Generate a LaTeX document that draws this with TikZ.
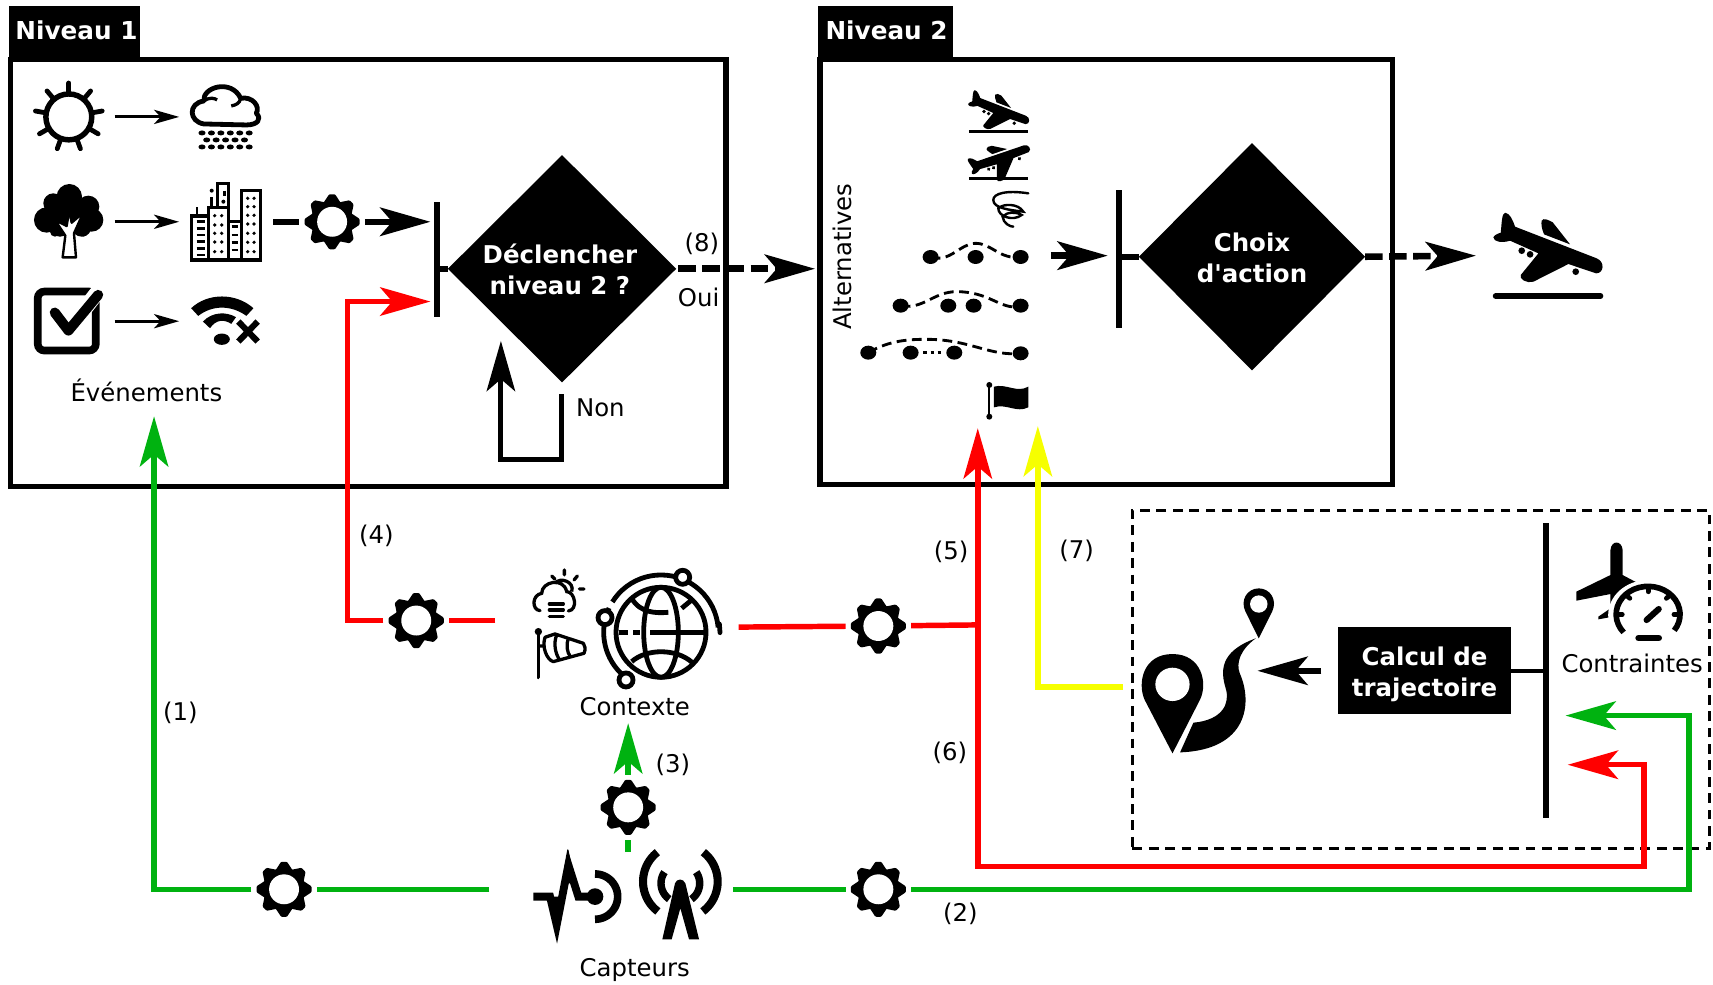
\documentclass[tikz,border=0pt]{standalone}
\usepackage{fontspec}
\setmainfont{DejaVu Sans}[Ligatures=TeXOff]
\usetikzlibrary{arrows.meta,shapes.geometric}
\definecolor{gr}{RGB}{0,178,16}
\definecolor{rd}{RGB}{255,0,0}
\definecolor{yl}{RGB}{246,255,0}
\newcommand{\arcp}[5]{plot[domain=#4:#5,samples=28,variable=\t] ({#1+#3*cos(\t)},{#2+#3*sin(\t)})}
\newcommand{\lowtext}[2]{\raisebox{0pt}[\dimexpr\height+#1\relax][\depth]{\begin{tabular}{@{}c@{}}#2\end{tabular}}}
\tikzset{
  every node/.style={font=\fontsize{11.15}{14}\selectfont,inner sep=0pt,outer sep=0pt},
  bigtip/.style={-{Stealth[length=23pt,width=13pt,inset=5.5pt]}},
  smalltip/.style={-{Stealth[length=11.5pt,width=6.5pt,inset=3pt]}},
  framebox/.style={draw=black,line width=2.5pt,rectangle},
  tabbox/.style={fill=black,text=white,font=\fontsize{11.3}{14}\selectfont\bfseries,rectangle},
  decision/.style={diamond,fill=black,text=white,aspect=1,align=center,font=\fontsize{11.2}{14}\selectfont\bfseries},
  barv/.style={fill=black,minimum width=2.6pt,rectangle},
  gearhit/.style={circle,minimum size=30pt},
  iconhit/.style={rectangle},
  link/.style={line width=2.5pt},
  thk/.style={line width=3pt},
  gearicon/.pic={
    \foreach \a in {0,45,...,315}{\filldraw[line width=1.6pt,line join=round,rotate=\a] (15,-7.5) -- (23.6,-1.8) -- (23.6,1.8) -- (15,7.5) -- cycle;}
    \fill (0,0) circle[radius=19.5];
    \fill[white] (0,0) circle[radius=13.7];
  },
  planeicon/.pic={
    \begin{scope}[scale=0.3051,shift={(-230,-170)}]
    \fill (92,128) .. controls (95,100) and (95,70) .. (105,68) .. controls (120,70) and (128,90) .. (135,110) -- (380,205) .. controls (405,215) and (402,250) .. (378,250) -- (295,222) -- (190,275) .. controls (170,282) and (145,265) .. (152,255) -- (205,190) -- (120,152) .. controls (95,160) and (70,155) .. (70,142) .. controls (72,135) and (85,130) .. (92,128) -- cycle;
    \fill (215,92) .. controls (220,82) and (235,90) .. (248,97) -- (300,163) -- (222,133) .. controls (216,120) and (212,100) .. (215,92) -- cycle;
    \fill (155,182) circle[radius=10] (180,193) circle[radius=10] (317,245) circle[radius=10];
    \end{scope}
  },
}
\begin{document}
\begin{tikzpicture}[x=0.5pt,y=-0.5pt]
\useasboundingbox (0,0) rectangle (1568,901.6);

% ---- frames and tabs
\node[framebox,minimum width=327.5pt,minimum height=195.5pt] (n1) at (337,250) {};
\node[framebox,minimum width=262pt,minimum height=194.5pt] (n2) at (1012.5,249) {};
\node[tabbox,minimum width=60pt,minimum height=25pt] (t1) at (68,30.5) {\hspace*{2pt}\raisebox{2.5pt}{Niveau 1}};
\node[tabbox,minimum width=61.5pt,minimum height=25pt] (t2) at (810.5,30.5) {\hspace*{1pt}\raisebox{2.5pt}{Niveau 2}};
\node[draw=black,line width=1.3pt,dash pattern=on 4.5pt off 3pt,rectangle,minimum width=264pt,minimum height=155pt] (dbox) at (1300.5,622) {};

% ---- decision nodes, bars, boxes
\node[decision,minimum width=104.5pt,minimum height=104pt] (d1) at (514.5,246) {\hspace*{-2pt}\lowtext{4pt}{Déclencher\\niveau 2 ?}};
\node[decision,minimum width=103.5pt,minimum height=104pt] (d2) at (1146,235) {\lowtext{4pt}{Choix\\d'action}};
\node[barv,minimum height=52.5pt] (b1) at (400,237.5) {};
\node[barv,minimum height=63pt] (b2) at (1024,237) {};
\node[barv,minimum height=135pt] (b3) at (1415,614) {};
\node[fill=black,text=white,rectangle,font=\fontsize{11.2}{14}\selectfont\bfseries,minimum width=79.5pt,minimum height=40pt] (calc) at (1304,614) {\lowtext{4pt}{Calcul de\\trajectoire}};

% ---- gears
\node[gearhit] (gA) at (304,203) {};
\node[gearhit] (gB) at (381,568) {};
\node[gearhit] (gC) at (804,573) {};
\node[gearhit] (gD) at (575,739) {};
\node[gearhit] (gE) at (260,814) {};
\node[gearhit] (gF) at (804,814) {};
\foreach \g in {gA,gB,gC,gD,gE,gF}{\pic at (\g) {gearicon};}

% ---- invisible anchors of the icon groups
\node[iconhit,minimum width=112pt,minimum height=40pt] (capt) at (560,818) {};
\node[iconhit,minimum width=111pt,minimum height=52pt] (ctx) at (564.5,572) {};
\node[iconhit,minimum width=77pt,minimum height=40pt] (route) at (1105,620) {};
\coordinate (tipA) at (141,381);
\coordinate (tipB) at (394,276);
\coordinate (tipC) at (895,392);
\coordinate (tipD) at (950,390);
\coordinate (tipE) at (1433,655);
\coordinate (tipF) at (1435,700);
\coordinate (tipG) at (458.5,312);
\coordinate (tipH) at (575,662);
\coordinate (tipI) at (746,246);
\coordinate (tipJ) at (1351,234);
\coordinate (tipK) at (1014,234);
\coordinate (tipL) at (1151,614);
\coordinate (jun) at (895,572);

% ---- connectors
\draw[link,gr] (capt.west |- gE) -- (gE);
\draw[link,gr,bigtip] (gE) -- (141,814) -- (tipA);
\draw[link,gr] (671,814) -- (gF);
\draw[link,gr,bigtip] (gF) -- (1546,814) -- (1546,655) -- (tipE);
\draw[link,gr] (575,780) -- (gD);
\draw[link,gr,bigtip] (gD) -- (tipH);
\draw[link,rd] (ctx.west |- gB) -- (gB);
\draw[link,rd,bigtip] (gB) -- (318,568) -- (318,276) -- (tipB);
\draw[link,rd] (676,574) -- (gC);
\draw[link,rd] (gC) -- (jun);
\draw[link,rd,bigtip] (jun) -- (tipC);
\draw[link,rd,bigtip] (jun) -- (895,793) -- (1505,793) -- (1505,700) -- (tipF);
\draw[link,yl,bigtip] (route.west |- 1028,629) -- (950,629) -- (tipD);
\draw[thk] (250,203) -- (gA);
\draw[thk,bigtip] (gA) -- (394,203);
\draw[line width=2.6pt] (b1.center |- d1) -- (d1.west);
\draw[line width=2.6pt] (b2.center |- d2) -- (d2.west);
\draw[line width=2.3pt,bigtip] (514,361) -- (514,421) -- (458.5,421) -- (tipG);
\draw[thk,dash pattern=on 8pt off 3pt,bigtip] (d1.east) ++(2,0) -- (tipI);
\draw[thk,dash pattern=on 8pt off 3pt,bigtip] (d2.east) -- (tipJ);
\draw[thk,bigtip] (962,234) -- (tipK);
\draw[line width=2.6pt,bigtip] (calc.west) ++(-15,0) -- (tipL);
\draw[line width=2pt] (calc.east) -- (b3.center |- calc);
\draw[line width=1.3pt,smalltip] (105,107) -- (164,107);
\draw[line width=1.3pt,smalltip] (105,203) -- (164,203);
\draw[line width=1.3pt,smalltip] (105,294) -- (164,294);

% ---- labels
\node (l1) at (165,652.5) {(1)};
\node (l2) at (879,836.5) {(2)};
\node (l3) at (616,700.5) {(3)};
\node (l4) at (344.5,490.5) {(4)};
\node (l5) at (870.5,505.5) {(5)};
\node (l6) at (869.5,689.5) {(6)};
\node (l7) at (985.5,504.5) {(7)};
\node (l8) at (642.5,223.5) {(8)};
\node (loui) at (639.5,272) {Oui};
\node (lnon) at (549.5,373) {Non};
\node (lev) at (134,357) {Événements};
\node (lctx) at (581,646.5) {Contexte};
\node (lcap) at (581,888) {Capteurs};
\node (lcon) at (1494,607) {Contraintes};
\node[rotate=90] (lalt) at (771.5,235) {Alternatives};

% ---- sun
\begin{scope}[shift={(63,107)}]
  \draw[line width=2.5pt] (0,0) circle[radius=21];
  \foreach \a in {-90,-50,...,230}{\draw[line width=2.2pt,line cap=round] ({22*cos(\a)},{22*sin(\a)}) -- ({31*cos(\a)},{31*sin(\a)});}
\end{scope}

% ---- icons in level 1 (stretched coordinates)
\begin{scope}[xscale=0.432,yscale=0.305]
  % rain cloud
  \draw[line width=2.2pt,line join=round] (432,372) .. controls (400,365) and (398,310) .. (432,303) .. controls (428,262) and (490,235) .. (510,295) .. controls (535,288) and (552,320) .. (543,340) .. controls (556,358) and (545,375) .. (522,375) -- cycle;
  \draw[line width=1.5pt] (432,303) .. controls (445,290) and (455,295) .. (460,300);
  \draw[line width=1.5pt] (510,295) .. controls (508,310) and (500,315) .. (490,318);
  \foreach \x in {428,448,468,488,508,528}{\fill (\x,399) circle[radius=7.5]; \fill (\x,441) circle[radius=7.5];}
  \foreach \x in {438,458,478,498,518}{\fill (\x,420) circle[radius=7.5];}
  % checkbox
  \draw[line width=3.5pt,rounded corners=3pt] (80,875) rectangle (203,1052);
  \draw[white,line width=7pt,line cap=round] (205,880) -- (145,990);
  \draw[line width=4.6pt,line cap=round,line join=round] (116,938) -- (145,992) -- (208,885);
  % wifi with cross
  \fill (405,925) .. controls (440,878) and (500,878) .. (537,925) -- (522,948) .. controls (490,915) and (450,915) .. (420,948) -- cycle;
  \fill (430,965) .. controls (450,935) and (480,935) .. (500,952) -- (490,972) .. controls (475,958) and (458,958) .. (445,985) -- cycle;
  \fill (470,1018) circle[radius=17];
  \draw[line width=2.8pt] (505,965) -- (546,1025) (546,965) -- (505,1025);
\end{scope}
% tree
\begin{scope}[shift={(18.3,155.6)},scale=0.3051]
  \foreach \x/\y/\r in {148/80/38,100/100/30,205/110/33,80/150/38,215/150/35,120/170/30,185/170/30,148/130/50,105/185/15,190/185/15}{\fill (\x,\y) circle[radius=\r];}
  \filldraw[fill=white,draw=black,line width=1.1pt,line join=round] (128,262) -- (168,262) -- (162,190) -- (190,128) -- (155,158) -- (148,120) -- (140,168) -- (105,150) -- (136,197) -- cycle;
\end{scope}
% city
\begin{scope}[shift={(164.8,155.6)},scale=0.3051]
  \draw[line width=1.2pt] (51,135) -- (51,112) (95,110) -- (95,82);
  \fill (95,62) circle[radius=6];
  \draw[line width=1.4pt,fill=white] (113,110) -- (113,40) -- (145,40) -- (145,110);
  \draw[line width=1.4pt,fill=white] (35,138) rectangle (85,270);
  \draw[line width=1.4pt,fill=white] (85,112) rectangle (145,270);
  \draw[line width=1.4pt,fill=white] (145,155) rectangle (185,270);
  \draw[line width=1.4pt,fill=white] (185,62) rectangle (240,270);
  \foreach \y in {155,175,195,215,235,255}{\draw[line width=1.2pt] (50,\y) -- (74,\y);}
  \foreach \y in {170,195,217,240}{\draw[line width=1.2pt] (155,\y) -- (175,\y);}
  \foreach \y in {137,165,190,216,245}{\fill (104,\y) circle[radius=5.5] (125,\y) circle[radius=5.5];}
  \foreach \y in {85,110,136,162,190,217,245}{\fill (203,\y) circle[radius=5.5] (222,\y) circle[radius=5.5];}
  \draw[line width=1.2pt] (133,62) -- (133,78);
  \fill (130,95) circle[radius=6];
\end{scope}

% ---- icons in level 2
\begin{scope}[shift={(741.4,0)},scale=0.3051]
  \draw[line width=1.1pt] (477,395) -- (655,395);
  \draw[line width=1.1pt] (477,535) -- (655,535);
  % tornado
  \draw[line width=1.1pt,line cap=round] (655,580) .. controls (590,570) and (550,580) .. (550,600) .. controls (550,625) and (600,630) .. (640,635) .. controls (625,610) and (580,610) .. (565,625) .. controls (565,650) and (610,665) .. (635,645) .. controls (620,635) and (590,635) .. (578,650) .. controls (580,670) and (600,680) .. (610,680);
  % trajectories
  \foreach \x/\y in {362/771,497/771,632/771,272/917,415/917,491/917,632/917,175/1058,302/1058,433/1058,632/1060}{\fill (\x,\y) ellipse[x radius=24,y radius=21];}
  \draw[line width=1.3pt,dash pattern=on 4.5pt off 2.5pt] (362,771) .. controls (420,790) and (450,730) .. (497,730) .. controls (545,730) and (570,780) .. (632,771);
  \draw[line width=1.3pt,dash pattern=on 4.5pt off 2.5pt] (272,917) .. controls (340,930) and (370,875) .. (440,875) .. controls (540,875) and (570,930) .. (632,920);
  \draw[line width=1.3pt,dash pattern=on 4.5pt off 2.5pt] (175,1058) .. controls (240,1020) and (300,1018) .. (350,1018) .. controls (480,1018) and (540,1070) .. (632,1060);
  \draw[line width=1.3pt,dash pattern=on 1.5pt off 1.8pt] (340,1057) -- (400,1057);
  % flag
  \draw[line width=1.1pt] (538,1155) -- (538,1250);
  \fill (538,1155) circle[radius=9] (538,1250) circle[radius=9];
  \fill (552,1160) .. controls (590,1150) and (620,1180) .. (655,1160) -- (655,1222) .. controls (620,1240) and (590,1210) .. (552,1222) -- cycle;
\end{scope}
\pic[scale=0.56] at (913.5,100) {planeicon};
\pic[rotate=40,scale=0.56] at (913.5,145) {planeicon};
\pic at (1415.8,225.8) {planeicon};
\draw[line width=2.6pt,line cap=round] (1369,271) -- (1465,271);

% ---- context and sensors icons
\begin{scope}[shift={(457.7,503.4)},scale=0.3051]
  % weather
  \draw[line width=1.5pt,line cap=round] (120,182) .. controls (95,180) and (95,135) .. (125,130) .. controls (125,95) and (190,80) .. (200,125) .. controls (225,125) and (235,180) .. (205,183);
  \draw[line width=1.5pt] (165,100) .. controls (180,80) and (225,95) .. (215,125);
  \draw[line width=1.5pt,line cap=round] (193,60) -- (193,75) (232,78) -- (222,90) (155,78) -- (165,88) (238,117) -- (252,117);
  \draw[line width=1.5pt,line cap=round] (148,162) -- (190,162) (148,180) -- (190,180) (148,200) -- (190,200);
  % windsock
  \draw[line width=1.7pt,line cap=round] (115,245) -- (115,382);
  \fill (115,245) circle[radius=11];
  \draw[line width=1.5pt,line join=round] (135,262) .. controls (125,290) and (140,330) .. (160,335) -- (252,310) .. controls (258,295) and (255,290) .. (250,280) -- (165,252) -- cycle;
  \draw[line width=1.5pt] (170,255) .. controls (160,280) and (165,310) .. (180,332) (205,265) .. controls (198,285) and (200,305) .. (212,322) (115,288) -- (135,288);
  % globe
  \draw[line width=2.2pt] (483,247) circle[radius=135];
  \draw[line width=2.2pt] (483,247) ellipse[x radius=52,y radius=135];
  \draw[line width=2.2pt] (450,247) -- (612,247);
  \draw[line width=2.2pt] (358,247) -- (385,247) (400,247) -- (420,247);
  \draw[line width=2.2pt] (395,145) .. controls (420,190) and (470,190) .. (505,187) (545,175) -- (575,150);
  \draw[line width=2.2pt] (395,335) .. controls (440,295) and (530,295) .. (577,338);
  % orbit
  \draw[line width=2.2pt] \arcp{483}{247}{172}{128}{205};
  \draw[line width=2.2pt] \arcp{483}{247}{172}{212}{355};
  \draw[line width=2.2pt,line cap=round] (658,222) -- (660,248);
  \filldraw[fill=white,draw=black,line width=2.2pt] (548,82) circle[radius=21] (315,203) circle[radius=21] (378,390) circle[radius=21];
  % pulse
  \draw[line width=3.6pt,miter limit=10] (100,1040) -- (150,1040) -- (170,1125) -- (205,945) -- (235,1040) -- (285,1040);
  \fill (170,1168) -- (150,1040) -- (180,1040) -- cycle;
  \fill (205,898) -- (190,1000) -- (225,1000) -- cycle;
  \fill (285,1040) circle[radius=25];
  \draw[line width=3.5pt] \arcp{285}{1040}{68}{-90}{90};
  % antenna
  \fill (525,1000) .. controls (530,985) and (550,985) .. (556,1000) -- (597,1168) -- (567,1168) -- (541,1075) -- (515,1168) -- (487,1168) -- cycle;
  \draw[line width=3.7pt] \arcp{541}{995}{112}{127}{232};
  \draw[line width=3.7pt] \arcp{541}{995}{112}{-52}{53};
  \draw[line width=3.4pt] \arcp{541}{1000}{58}{125}{215};
  \draw[line width=3.4pt] \arcp{541}{1000}{58}{-35}{55};
\end{scope}

% ---- route and constraints icons
\begin{scope}[shift={(1025.2,457.7)},xscale=0.348,yscale=0.3051]
  \fill (138,760) -- (65,600) .. controls (45,550) and (60,462) .. (138,462) .. controls (215,462) and (232,550) .. (210,600) -- cycle;
  \fill[white] (138,553) ellipse[x radius=45,y radius=50];
  \fill (365,415) -- (330,335) .. controls (315,300) and (335,265) .. (365,265) .. controls (395,265) and (415,300) .. (400,335) -- cycle;
  \fill[white] (365,312) ellipse[x radius=23,y radius=26];
  \fill (158,757) -- (193,668) .. controls (270,660) and (290,610) .. (278,565) .. controls (265,515) and (260,455) .. (357,415) .. controls (315,450) and (305,490) .. (315,520) .. controls (350,610) and (335,750) .. (158,757) -- cycle;
  % plane from above
  \fill (1290,225) -- (1290,150) .. controls (1292,120) and (1320,120) .. (1322,150) -- (1322,225) -- (1380,260) -- (1380,340) -- (1296,350) -- (1258,358) -- (1258,350) -- (1290,325) -- (1290,282) -- (1200,302) -- (1200,275) -- cycle;
  \fill[white] (1389,345) ellipse[x radius=105,y radius=105];
  % gauge
  \draw[line width=2.6pt] \arcp{1389}{343}{84}{140}{395};
  \foreach \a in {-180,-135,-90,-45,0}{\draw[line width=2.2pt,line cap=round] ({1389+82*cos(\a)},{343+82*sin(\a)}) -- ({1389+68*cos(\a)},{343+68*sin(\a)});}
  \draw[line width=2.8pt,line cap=round] (1385,360) -- (1417,327);
  \draw[line width=3pt,line cap=round] (1364,414) -- (1417,414);
\end{scope}
\end{tikzpicture}
\end{document}
